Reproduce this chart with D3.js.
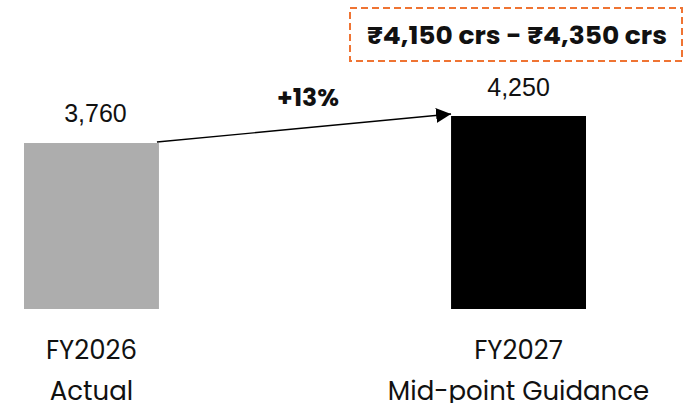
<!DOCTYPE html>
<html><head><meta charset="utf-8">
<script src="https://cdn.jsdelivr.net/npm/d3@7"></script>
<style>html,body{margin:0;padding:0;background:#fff;}svg{display:block;}</style>
</head><body>
<script>
const categories = ["FY2026|Actual", "FY2027|Mid-point Guidance"];
const values = [3760, 4250];
const valueLabels = ["3,760", "4,250"];
const growthLabel = "+13%";
const guidanceLabel = "₹4,150 crs - ₹4,350 crs";

const W = 684, H = 403;
const svg = d3.select("body").append("svg").attr("width", W).attr("height", H);
const defs = svg.append("defs");
defs.append("marker").attr("id","arr").attr("viewBox","0 0 10 10").attr("refX",10).attr("refY",5)
  .attr("markerWidth",15).attr("markerHeight",15).attr("markerUnits","userSpaceOnUse").attr("orient","auto")
  .append("path").attr("d","M0,0 L10,5 L0,10 z").attr("fill","#000");

const x = d3.scaleBand().domain(categories).range([24, 586]).paddingInner(0.684).paddingOuter(0);
const y = d3.scaleLinear().domain([750, 4250]).range([309, 116]);
const colors = ["#adadad", "#000000"];
const catFont = "Poppins, 'Lato', 'Noto Sans', sans-serif";

svg.selectAll("rect.bar").data(values).join("rect").attr("class","bar")
  .attr("x",(d,i)=>x(categories[i])).attr("width",x.bandwidth())
  .attr("y",d=>y(d)).attr("height",d=>y.range()[0]-y(d)).attr("fill",(d,i)=>colors[i]);

svg.selectAll("text.val").data(values).join("text").attr("class","val")
  .attr("x",(d,i)=>x(categories[i])+x.bandwidth()/2 + (i===0?4:0)).attr("y",(d,i)=>y(d)-(i===0?21:20))
  .attr("text-anchor","middle").attr("font-family","'Liberation Sans', Arial, sans-serif").attr("font-size",25)
  .attr("fill","#111").text((d,i)=>valueLabels[i]);

categories.forEach((c,i)=>{
  const parts = c.split("|");
  const cx = x(c)+x.bandwidth()/2;
  parts.forEach((p,j)=>{
    svg.append("text").attr("x",cx).attr("y",359+j*41).attr("text-anchor","middle")
      .attr("font-family",catFont).attr("font-size",26).attr("fill","#111").text(p);
  });
});

// arrow
const x0 = x(categories[0])+x.bandwidth()-2, y0 = y(values[0])-1;
const x1 = x(categories[1]), y1 = y(values[1])-2;
svg.append("line").attr("x1",x0).attr("y1",y0).attr("x2",x1).attr("y2",y1)
  .attr("stroke","#000").attr("stroke-width",1.3).attr("marker-end","url(#arr)");
svg.append("text").attr("x",308).attr("y",106).attr("text-anchor","middle")
  .attr("font-family",catFont).attr("font-weight","bold").attr("font-size",25).attr("fill","#111").text(growthLabel);

// guidance box
const bx = 350, by = 8, bw = 332, bh = 53;
svg.append("rect").attr("x",bx).attr("y",by).attr("width",bw).attr("height",bh)
  .attr("fill","none").attr("stroke","#ef7433").attr("stroke-width",2).attr("stroke-dasharray","7,4");
svg.append("text").attr("x",bx+bw/2+1).attr("y",44).attr("text-anchor","middle")
  .attr("font-family",catFont).attr("font-weight","bold").attr("font-size",24).attr("fill","#111")
  .attr("textLength",300).attr("lengthAdjust","spacingAndGlyphs").text(guidanceLabel);
</script>
</body></html>
